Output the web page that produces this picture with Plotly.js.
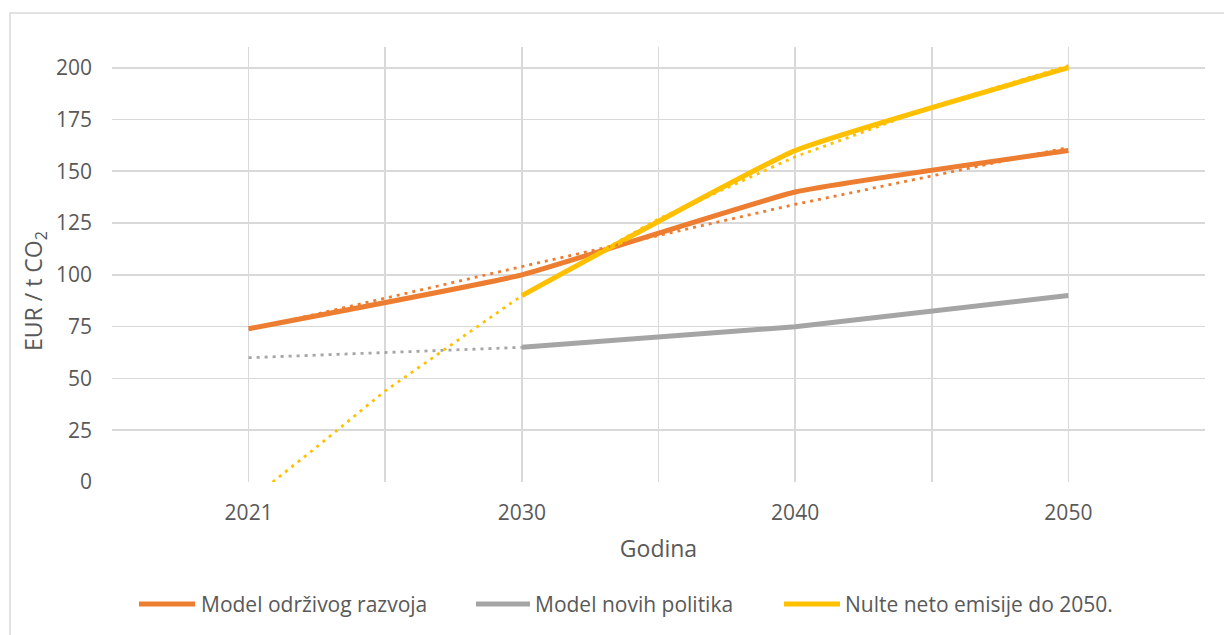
<!DOCTYPE html>
<html>
<head>
<meta charset="utf-8">
<script src="https://cdn.plot.ly/plotly-3.0.1.min.js"></script>
<style>html,body{margin:0;padding:0;background:#fff;}#chart{width:1224px;height:635px;}</style>
</head>
<body>
<div id="chart"></div>
<script>
// Categories (x positions are category indices 1..4)
const categories = ["2021", "2030", "2040", "2050"];
const catIndex = [1, 2, 3, 4];

// Series values (null = no value)
const odrzivogRazvoja = [74, 100, 140, 160];
const noviPolitika = [null, 65, 75, 90];
const nulteNeto = [null, 90, 160, 200];

// Trendlines
const trendOrangeX = [1, 2, 3, 4];
const trendOrangeY = [73.5, 104, 134, 161.5];
const trendGrayX = [1, 1.5, 2];
const trendGrayY = [60, 62.5, 65];
const trendYellowX = [1.088, 1.25, 1.5, 2, 2.5, 3, 3.5, 4];
const trendYellowY = [0, 17, 44, 90, 127, 157, 181, 201];

const seriesNames = ["Model održivog razvoja", "Model novih politika", "Nulte neto emisije do 2050."];
const colors = ["#ED7D31", "#A5A5A5", "#FFC000"];
const xTitle = "Godina";
const yTitle = "EUR / t CO<sub>2</sub>";

const FONT = "Open Sans, Noto Sans, sans-serif";
const TXT = "#595959";
const GRID = "#D9D9D9";

const solidLine = (c) => ({color: c, width: 5, shape: "spline", smoothing: 0.35});
const dotLine = (c) => ({color: c, width: 2.8, dash: "3px,5px"});

const traces = [
  {x: catIndex, y: odrzivogRazvoja, name: seriesNames[0], mode: "lines", line: solidLine(colors[0])},
  {x: catIndex, y: noviPolitika, name: seriesNames[1], mode: "lines", line: solidLine(colors[1])},
  {x: catIndex, y: nulteNeto, name: seriesNames[2], mode: "lines", line: solidLine(colors[2])},
  {x: trendOrangeX, y: trendOrangeY, mode: "lines", line: dotLine(colors[0])},
  {x: trendGrayX, y: trendGrayY, mode: "lines", line: dotLine(colors[1])},
  {x: trendYellowX, y: trendYellowY, mode: "lines", line: dotLine(colors[2])}
];

const tickvals = [];
const ticktext = [];
for (let i = 0; i < categories.length; i++) {
  tickvals.push(catIndex[i] - 0.5); ticktext.push("");
  tickvals.push(catIndex[i]); ticktext.push(categories[i]);
}
tickvals.push(catIndex[catIndex.length - 1] + 0.5); ticktext.push("");

// Custom legend (pixel layout converted to paper coordinates)
const L = 112, R = 1205, T = 47, B = 482;
const px = (v) => (v - L) / (R - L);
const py = (v) => (B - v) / (B - T);
const legendY = 604;
const legendItems = [
  {line0: 139, line1: 195, text: 199},
  {line0: 476, line1: 530, text: 533},
  {line0: 784, line1: 840, text: 843}
];
const shapes = [
  {type: "rect", xref: "paper", yref: "paper", x0: px(10), x1: px(1232), y0: py(640), y1: py(13),
   line: {color: GRID, width: 1.5}, fillcolor: "rgba(0,0,0,0)", layer: "below"}
];
const annotations = [
  {xref: "paper", yref: "paper", x: px(34), y: py(291), xanchor: "center", yanchor: "middle", textangle: -90,
   text: yTitle, showarrow: false, font: {family: FONT, size: 23, color: TXT}}
];
legendItems.forEach((it, i) => {
  shapes.push({type: "line", xref: "paper", yref: "paper", x0: px(it.line0), x1: px(it.line1),
               y0: py(legendY), y1: py(legendY), line: {color: colors[i], width: 5}});
  annotations.push({xref: "paper", yref: "paper", x: px(it.text), y: py(legendY), xanchor: "left", yanchor: "middle",
                    text: seriesNames[i], showarrow: false, font: {family: FONT, size: 21, color: TXT}});
});

const layout = {
  width: 1224, height: 635,
  margin: {l: L, r: 1224 - R, t: T, b: 635 - B, pad: 0},
  paper_bgcolor: "#fff", plot_bgcolor: "#fff",
  font: {family: FONT, color: TXT, size: 21},
  showlegend: false,
  xaxis: {
    range: [0.5, 4.5], tickmode: "array", tickvals: tickvals, ticktext: ticktext,
    showgrid: true, gridcolor: GRID, gridwidth: 1.6, zeroline: false, showline: false,
    ticks: "", ticklabelstandoff: 16, tickfont: {size: 21, color: TXT},
    title: {text: xTitle, font: {size: 23, color: TXT}, standoff: 15}, fixedrange: true, automargin: false
  },
  yaxis: {
    range: [0, 210], tickmode: "array", tickvals: [0, 25, 50, 75, 100, 125, 150, 175, 200],
    showgrid: true, gridcolor: GRID, gridwidth: 1.6, zeroline: false, showline: false,
    ticks: "", ticklabelstandoff: 19, tickfont: {size: 21, color: TXT},
    fixedrange: true, automargin: false
  },
  shapes: shapes,
  annotations: annotations
};

Plotly.newPlot("chart", traces, layout, {displayModeBar: false, staticPlot: true});
</script>
</body>
</html>
